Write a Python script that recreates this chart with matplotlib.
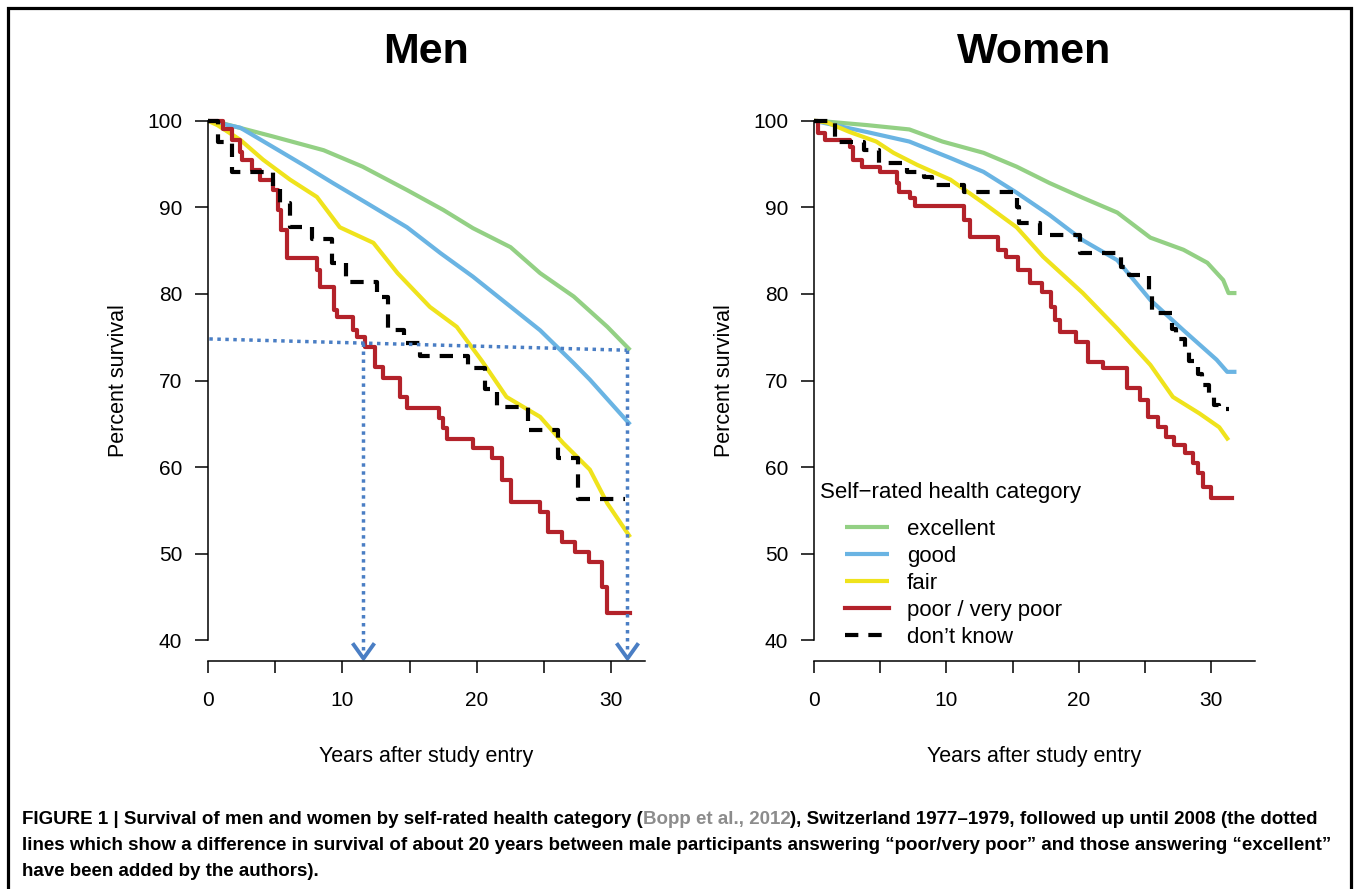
import matplotlib
matplotlib.use("Agg")
import matplotlib.pyplot as plt
from matplotlib.path import Path
from matplotlib.patches import Rectangle

plt.rcParams['font.family'] = ['Liberation Sans', 'DejaVu Sans']

# ---- data (years, percent surviving) ----
men_exc_t = [0, 1.1, 4.8, 8.6, 11.5, 14.8, 17.5, 19.7, 22.5, 24.7, 27.2, 29.7, 31.4]
men_exc_s = [100, 99.7, 98.2, 96.6, 94.7, 92.0, 89.7, 87.6, 85.4, 82.4, 79.7, 76.2, 73.5]
men_good_t = [0, 2.4, 4.8, 7.3, 9.3, 11.8, 14.8, 17.3, 19.7, 22.2, 24.7, 27.2, 28.4, 31.4]
men_good_s = [100, 99.2, 97.0, 94.7, 92.8, 90.5, 87.7, 84.7, 82.0, 78.9, 75.8, 72.0, 70.1, 64.9]
men_fair_t = [0, 0.7, 2.4, 4.1, 6.1, 8.1, 9.8, 12.3, 14.1, 16.5, 18.5, 20.4, 22.2, 24.7, 26.4, 28.4, 29.7, 31.4]
men_fair_s = [100, 99.5, 97.8, 95.5, 93.2, 91.2, 87.7, 85.9, 82.4, 78.5, 76.2, 72.2, 68.1, 65.8, 62.8, 59.7, 55.8, 51.9]
men_poor_t = [0, 1.1, 1.8, 2.4, 2.5, 3.3, 3.9, 4.8, 5.2, 5.4, 5.9, 8.1, 8.3, 9.4, 9.6, 10.8, 11.1, 11.7,
              12.4, 13.0, 14.3, 14.8, 17.2, 17.5, 17.8, 19.7, 21.1, 21.9, 22.5, 24.7, 25.3, 26.3, 27.3,
              28.3, 29.3, 29.7, 31.4]
men_poor_s = [100, 99.0, 97.8, 96.4, 95.5, 94.3, 93.2, 92.0, 89.7, 87.4, 84.2, 82.8, 80.8, 78.2, 77.3, 75.8,
              75.0, 73.9, 71.6, 70.3, 68.1, 66.8, 65.7, 64.5, 63.3, 62.2, 61.0, 58.5, 56.0, 54.8, 52.5, 51.3,
              50.2, 49.0, 46.1, 43.2, 43.2]
men_dk_t = [0, 0.75, 1.8, 4.8, 5.35, 6.1, 7.7, 9.2, 10.3, 12.6, 13.4, 14.6, 15.8, 19.3, 20.6, 21.5, 23.8,
            26.0, 27.5, 31.0]
men_dk_s = [100, 97.6, 94.1, 92.4, 90.5, 87.7, 86.3, 83.6, 81.4, 79.7, 75.8, 74.3, 72.8, 71.4, 69.0, 66.9,
            64.3, 61.0, 56.3, 56.3]

women_exc_t = [0, 1.0, 4.0, 7.2, 9.7, 12.8, 15.3, 17.8, 20.3, 22.9, 25.4, 27.9, 29.7, 30.9, 31.3, 31.9]
women_exc_s = [100, 99.9, 99.5, 99.0, 97.6, 96.3, 94.7, 92.8, 91.1, 89.4, 86.5, 85.1, 83.6, 81.6, 80.1, 80.1]
women_good_t = [0, 4.0, 7.2, 10.3, 12.8, 15.3, 17.8, 20.3, 22.9, 25.4, 27.9, 30.4, 31.2, 31.9]
women_good_s = [100, 98.7, 97.6, 95.7, 94.1, 91.7, 89.1, 86.2, 83.9, 79.3, 75.8, 72.4, 71.0, 71.0]
women_fair_t = [0, 1.0, 2.7, 4.7, 6.0, 7.8, 10.3, 12.8, 15.3, 17.3, 20.3, 22.9, 25.4, 27.1, 29.1, 30.6, 31.3]
women_fair_s = [100, 99.8, 98.7, 97.6, 96.3, 94.9, 93.2, 90.5, 87.7, 84.3, 80.1, 76.0, 71.8, 68.1, 66.2, 64.6, 63.1]
women_poor_t = [0, 0.33, 0.83, 2.7, 2.95, 3.6, 5.0, 6.25, 6.4, 7.25, 7.6, 11.3, 11.8, 13.9, 14.5, 15.4,
                16.3, 17.2, 17.9, 18.2, 18.6, 19.8, 20.7, 21.8, 23.6, 24.6, 25.2, 26.0, 26.6, 27.2, 28.0,
                28.6, 29.0, 29.4, 30.0, 31.6]
women_poor_s = [100, 98.6, 97.8, 97.0, 95.5, 94.7, 94.1, 92.8, 91.8, 91.1, 90.2, 88.5, 86.6, 85.1, 84.3,
                82.8, 81.3, 80.2, 78.5, 77.0, 75.6, 74.5, 72.1, 71.4, 69.1, 67.7, 65.8, 64.6, 63.5, 62.5,
                61.6, 60.5, 59.3, 57.7, 56.4, 56.4]
women_dk_t = [0, 1.6, 3.8, 4.9, 7.0, 8.3, 8.9, 11.3, 15.3, 15.5, 17.1, 20.1, 23.2, 23.8, 25.3, 25.5, 27.0,
              27.3, 28.0, 28.3, 29.0, 29.3, 29.8, 30.2, 30.6, 31.3]
women_dk_s = [100, 97.5, 96.6, 95.1, 94.1, 93.5, 92.6, 91.8, 90.0, 88.2, 86.8, 84.7, 83.1, 82.2, 80.0,
              77.8, 76.0, 74.8, 73.4, 72.2, 70.8, 69.5, 68.3, 67.2, 66.7, 66.7]

categories = ['excellent', 'good', 'fair', 'poor / very poor', 'don\u2019t know']
colors = ['#93D084', '#6AB4E3', '#EFE31C', '#B3222A', 'black']

# authors' dotted annotation (men): horizontal line and the two arrow times
annot_h_x = [0.1, 31.15]
annot_h_y = [74.8, 73.5]
annot_arrow_x = [11.55, 31.15]
annot_arrow_top = [74.3, 73.5]
annot_color = '#4A7EC4'

fig = plt.figure(figsize=(13.58, 8.89), dpi=100)

W, H = 1358, 889


def make_axes(x0, x1, xmax):
    ax = fig.add_axes([x0 / W, 1 - 661 / H, (x1 - x0) / W, 561 / H])
    ax.set_xlim(0, xmax)
    ax.set_ylim(37.6, 102.4)
    for s in ['top', 'right']:
        ax.spines[s].set_visible(False)
    ax.spines['left'].set_bounds(40, 100)
    ax.spines['bottom'].set_bounds(0, xmax)
    for s in ['left', 'bottom']:
        ax.spines[s].set_linewidth(1.1)
    ax.set_yticks([40, 50, 60, 70, 80, 90, 100])
    ax.set_xticks([0, 5, 10, 15, 20, 25, 30])
    ax.set_xticklabels(['0', '', '10', '', '20', '', '30'])
    ax.tick_params(axis='y', length=9.5, width=1.1, pad=9, labelsize=15)
    ax.tick_params(axis='x', length=8.5, width=1.1, pad=13, labelsize=15)
    ax.set_ylabel('Percent survival', fontsize=15.5, labelpad=13)
    ax.set_xlabel('Years after study entry', fontsize=15.5, labelpad=26)
    return ax


def draw_curves(ax, smooth, steps):
    for (t, s), c in zip(smooth, colors[:3]):
        ax.plot(t, s, color=c, lw=3, solid_joinstyle='round', solid_capstyle='butt')
    (tp, sp) = steps[0]
    ax.step(tp, sp, where='post', color=colors[3], lw=3)
    (td, sd) = steps[1]
    ax.step(td, sd, where='post', color=colors[4], lw=3, dashes=(3.2, 2.4))


ax1 = make_axes(208, 645, 32.5)
draw_curves(ax1, [(men_exc_t, men_exc_s), (men_good_t, men_good_s), (men_fair_t, men_fair_s)],
            [(men_poor_t, men_poor_s), (men_dk_t, men_dk_s)])
ax1.set_title('Men', fontsize=31, fontweight='bold', pad=27)

# dotted lines and arrows added by the authors
ax1.plot(annot_h_x, annot_h_y, color=annot_color, lw=2.5, dashes=(1, 1.3), solid_capstyle='butt')
chevron = Path([(-1, 1.4), (0, 0), (1, 1.4)], [Path.MOVETO, Path.LINETO, Path.LINETO])
for xa, yt in zip(annot_arrow_x, annot_arrow_top):
    ax1.plot([xa, xa], [yt, 38.5], color=annot_color, lw=2.5, dashes=(1, 1.3))
    ax1.plot([xa], [37.95], marker=chevron, ms=22, mfc='none', mec=annot_color, mew=2.8,
             clip_on=False)

ax2 = make_axes(814, 1255, 33.3)
draw_curves(ax2, [(women_exc_t, women_exc_s), (women_good_t, women_good_s), (women_fair_t, women_fair_s)],
            [(women_poor_t, women_poor_s), (women_dk_t, women_dk_s)])
ax2.set_title('Women', fontsize=31, fontweight='bold', pad=27)

handles = ax2.get_lines()[:5]
ax2.text(0.0136, 0.301, 'Self\u2212rated health category', transform=ax2.transAxes,
         fontsize=16, va='center', ha='left')
ax2.legend(handles, categories, loc='upper left', bbox_to_anchor=(0.070, 0.253), frameon=False,
           fontsize=16, handlelength=2.0, handletextpad=0.8, labelspacing=0.27,
           borderpad=0, borderaxespad=0)

# caption
cap_size = 13.5
cap_kw = dict(fontsize=cap_size, fontweight='bold', color='black')
t1 = fig.text(22 / W, 1 - 824 / H,
              'FIGURE 1 | Survival of men and women by self-rated health category (', **cap_kw)
t2 = fig.text(0, 0, 'Bopp et al., 2012', fontsize=cap_size, fontweight='bold', color='#8C8C8C')
fig.canvas.draw()
r = fig.canvas.get_renderer()
bb = t1.get_window_extent(r)
t2.set_position((bb.x1 / W, 1 - 824 / H))
bb2 = t2.get_window_extent(r)
fig.text(bb2.x1 / W, 1 - 824 / H,
         '), Switzerland 1977\u20131979, followed up until 2008 (the dotted', **cap_kw)
fig.text(22 / W, 1 - 850 / H,
         'lines which show a difference in survival of about 20 years between male participants '
         'answering \u201cpoor/very poor\u201d and those answering \u201cexcellent\u201d', **cap_kw)
fig.text(22 / W, 1 - 876 / H, 'have been added by the authors).', **cap_kw)

# outer frame
fig.patches.append(Rectangle((8 / W, -0.02), (1351 - 8) / W, 1.02 - 8 / H, transform=fig.transFigure,
                             fill=False, lw=2.3, ec='black'))

fig.savefig('out.png', dpi=100)
